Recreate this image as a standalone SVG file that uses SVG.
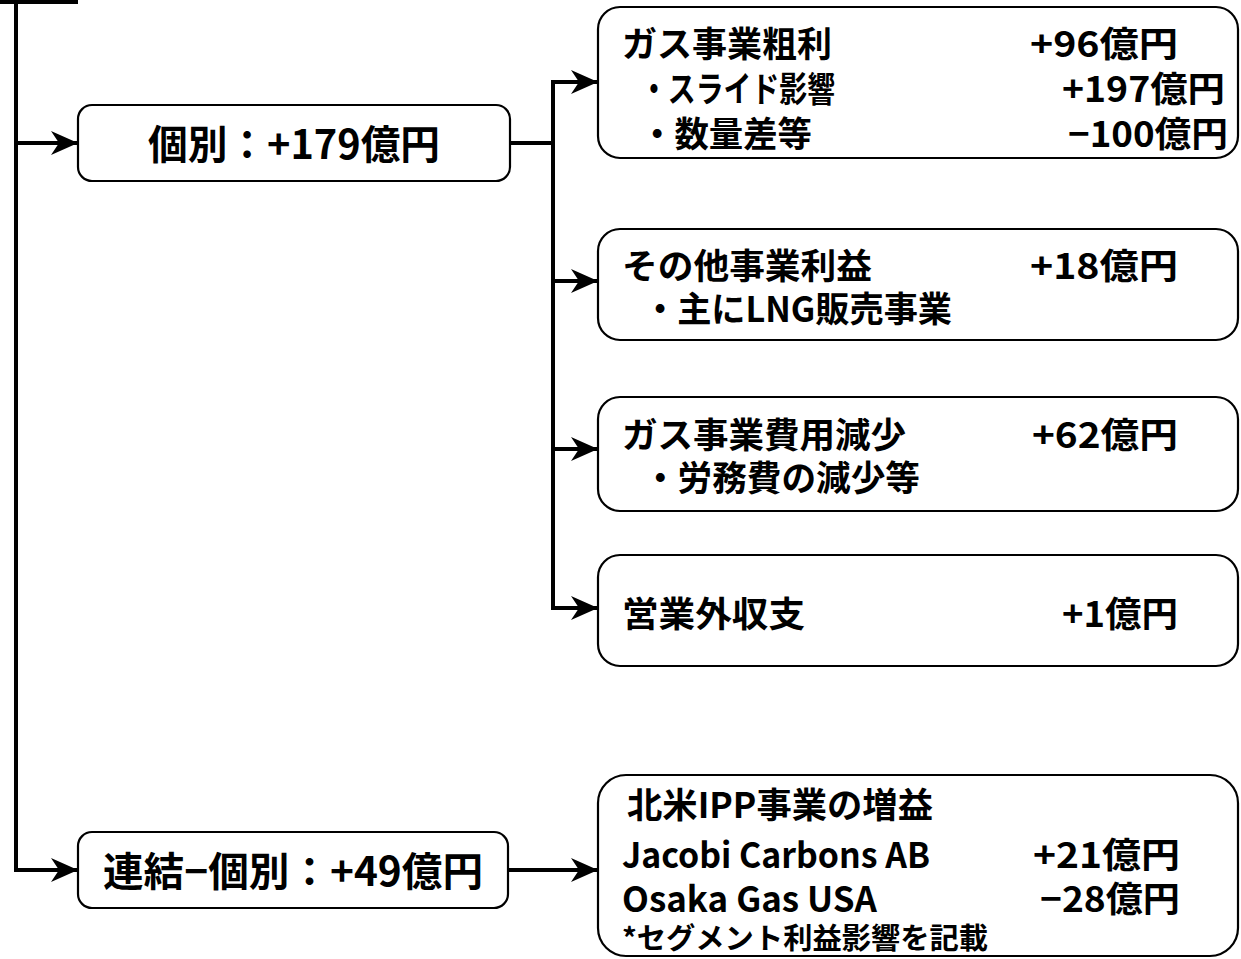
<svg xmlns="http://www.w3.org/2000/svg" width="1241" height="959" viewBox="0 0 1241 959">
<style>
.box{fill:#fff;stroke:#000;stroke-width:2.2}
.ln{fill:none;stroke:#000;stroke-width:4}
text{font-family:"Noto Sans CJK JP","Noto Sans",sans-serif;font-weight:bold;fill:#000}
.t{font-size:35px}
.b{font-size:40px}
.s{font-size:29px}
</style>
<defs>
<marker id="ah" markerUnits="userSpaceOnUse" markerWidth="30" markerHeight="30" viewBox="0 0 30 30" refX="28" refY="15" orient="auto">
<path d="M2,3 L29,15 L2,27 L10,15 Z" fill="#000"/>
</marker>
</defs>
<rect width="1241" height="959" fill="#fff"/>
<g id="connectors">
<path class="ln" d="M0,2 H78"/>
<path class="ln" d="M16,0 V870 H77" marker-end="url(#ah)"/>
<path class="ln" d="M16,143 H77" marker-end="url(#ah)"/>
<path class="ln" d="M510,143 H553"/>
<path class="ln" d="M553,608 V82 H597" marker-end="url(#ah)"/>
<path class="ln" d="M553,281 H597" marker-end="url(#ah)"/>
<path class="ln" d="M553,449 H597" marker-end="url(#ah)"/>
<path class="ln" d="M551,608 H597" marker-end="url(#ah)"/>
<path class="ln" d="M508,870 H597" marker-end="url(#ah)"/>
</g>
<g id="kobetsu">
<rect class="box" x="78" y="105" width="432" height="76" rx="14"/>
<text class="b" x="148" y="159" textLength="292" lengthAdjust="spacingAndGlyphs">個別：+179億円</text>
</g>
<g id="gas-arari">
<rect class="box" x="598" y="7" width="640" height="151" rx="22"/>
<text class="t" x="622" y="57" textLength="210" lengthAdjust="spacingAndGlyphs">ガス事業粗利</text>
<text class="t" x="1030" y="57" textLength="148" lengthAdjust="spacingAndGlyphs">+96億円</text>
<text class="t" x="640" y="102" textLength="195" lengthAdjust="spacingAndGlyphs">・スライド影響</text>
<text class="t" x="1062" y="102" textLength="163" lengthAdjust="spacingAndGlyphs">+197億円</text>
<text class="t" x="640" y="147" textLength="172" lengthAdjust="spacingAndGlyphs">・数量差等</text>
<text class="t" x="1068" y="147" textLength="160" lengthAdjust="spacingAndGlyphs">−100億円</text>
</g>
<g id="sonota">
<rect class="box" x="598" y="229" width="640" height="111" rx="22"/>
<text class="t" x="622" y="279" textLength="250" lengthAdjust="spacingAndGlyphs">その他事業利益</text>
<text class="t" x="1030" y="279" textLength="148" lengthAdjust="spacingAndGlyphs">+18億円</text>
<text class="t" x="643" y="322" textLength="309" lengthAdjust="spacingAndGlyphs">・主にLNG販売事業</text>
</g>
<g id="hiyou">
<rect class="box" x="598" y="397" width="640" height="114" rx="22"/>
<text class="t" x="622" y="448" textLength="284" lengthAdjust="spacingAndGlyphs">ガス事業費用減少</text>
<text class="t" x="1032" y="448" textLength="146" lengthAdjust="spacingAndGlyphs">+62億円</text>
<text class="t" x="643" y="491" textLength="277" lengthAdjust="spacingAndGlyphs">・労務費の減少等</text>
</g>
<g id="eigyougai">
<rect class="box" x="598" y="555" width="640" height="111" rx="22"/>
<text class="t" x="622" y="627" textLength="183" lengthAdjust="spacingAndGlyphs">営業外収支</text>
<text class="t" x="1062" y="627" textLength="116" lengthAdjust="spacingAndGlyphs">+1億円</text>
</g>
<g id="renketsu">
<rect class="box" x="78" y="832" width="430" height="76" rx="14"/>
<text class="b" x="103" y="886" textLength="380" lengthAdjust="spacingAndGlyphs">連結−個別：+49億円</text>
</g>
<g id="ipp">
<rect class="box" x="598" y="775" width="640" height="181" rx="28"/>
<text class="t" x="627" y="818" textLength="306" lengthAdjust="spacingAndGlyphs">北米IPP事業の増益</text>
<text class="t" x="622" y="868" textLength="308" lengthAdjust="spacingAndGlyphs">Jacobi Carbons AB</text>
<text class="t" x="1033" y="868" textLength="147" lengthAdjust="spacingAndGlyphs">+21億円</text>
<text class="t" x="622" y="912" textLength="255" lengthAdjust="spacingAndGlyphs">Osaka Gas USA</text>
<text class="t" x="1040" y="912" textLength="140" lengthAdjust="spacingAndGlyphs">−28億円</text>
<text class="s" x="622" y="949" textLength="366" lengthAdjust="spacingAndGlyphs">*セグメント利益影響を記載</text>
</g>
</svg>
